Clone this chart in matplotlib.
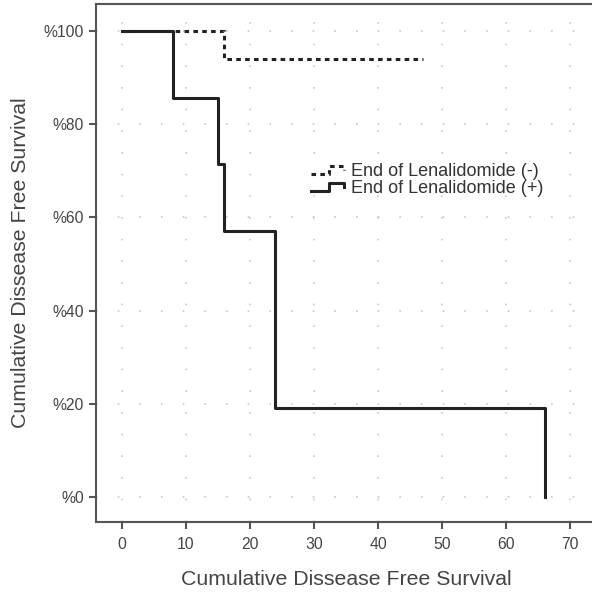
import matplotlib
matplotlib.use("Agg")
import matplotlib.pyplot as plt
from matplotlib.legend_handler import HandlerLine2D
from matplotlib.lines import Line2D

# Kaplan-Meier steps (time, survival %)
neg_times = [0, 16, 47]
neg_surv = [100, 94.1, 94.1]
pos_times = [0, 8, 15, 16, 24, 66, 66]
pos_surv = [100, 85.7, 71.4, 57.1, 19.0, 19.0, 0]

labels = ["End of Lenalidomide (-)", "End of Lenalidomide (+)"]
xticks = [0, 10, 20, 30, 40, 50, 60, 70]
yticks = [0, 20, 40, 60, 80, 100]
ytick_labels = ["%" + str(v) for v in yticks]


class StepHandler(HandlerLine2D):
    # legend key drawn as a small step, like the SPSS output
    def create_artists(self, legend, orig_handle, xdescent, ydescent,
                       width, height, fontsize, trans):
        x0, x1 = -xdescent, -xdescent + width
        xm = x0 + width * 0.5
        y0, y1 = -ydescent + height * 0.15, -ydescent + height * 0.8
        line = Line2D([x0, xm, xm, x1 - width * 0.08, x1 - width * 0.08],
                      [y0, y0, y1, y1, y0 + height * 0.3])
        self.update_prop(line, orig_handle, legend)
        line.set_transform(trans)
        return [line]


plt.rcParams['font.family'] = ['Liberation Sans', 'DejaVu Sans']

fig = plt.figure(figsize=(5.92, 5.94), dpi=100)
ax = fig.add_axes([96 / 592, 72 / 594, 500 / 592, 518 / 594])

ax.grid(True, color="#c8c8c8", linestyle=(0, (1, 12)), linewidth=1.2)
ax.set_axisbelow(True)

l1, = ax.step(neg_times, neg_surv, where="post", color="#222222",
              linestyle=(0, (1.5, 1.4)), linewidth=2.2, label=labels[0])
l2, = ax.step(pos_times, pos_surv, where="post", color="#222222",
              linewidth=2.2, label=labels[1])

ax.set_xlim(-4, 74)
ax.set_ylim(-5.4, 105.8)
ax.set_xticks(xticks)
ax.set_yticks(yticks)
ax.set_yticklabels(ytick_labels)

for side in ["left", "bottom", "top", "right"]:
    ax.spines[side].set_color("#555555")
    ax.spines[side].set_linewidth(1.5)

ax.tick_params(axis="both", direction="out", length=5, width=1.5,
               color="#555555", labelsize=11.3, labelcolor="#444444")
ax.tick_params(axis="x", pad=6)

ax.set_xlabel("Cumulative Dissease Free Survival", fontsize=15.3,
              color="#444444", labelpad=13)
ax.set_ylabel("Cumulative Dissease Free Survival", fontsize=15.3,
              color="#444444", labelpad=10)

leg = ax.legend(handles=[l1, l2], loc="upper left",
                bbox_to_anchor=(0.405, 0.718), frameon=False,
                fontsize=13, handlelength=2.0, handletextpad=0.2,
                labelspacing=0.02, borderpad=0.2,
                handler_map={Line2D: StepHandler()})
for t in leg.get_texts():
    t.set_color("#333333")

fig.savefig("out.png", dpi=100)
